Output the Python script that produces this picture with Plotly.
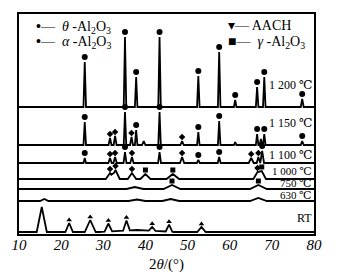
import plotly.graph_objects as go

# ---------------- data ----------------
labels = ["1 200 ℃", "1 150 ℃", "1 100 ℃", "1 000 ℃", "750 ℃", "630 ℃", "RT"]
offsets = [127, 89, 71, 55, 45, 33, 2]          # baseline level of each pattern
label_dy = [22, 22, 8, 8, 6, 6, 14]              # label height above baseline
label_size = [12, 12, 12, 11, 11, 11, 12]

# peaks: (2theta, height, half-width at base, phase)  a=alpha, t=theta, c=AACH, g=gamma
peaks_1200 = [(25.6, 45, 0.3, 'a'), (35.15, 70, 0.3, 'a'), (37.8, 30, 0.3, 'a'),
              (43.35, 70, 0.3, 'a'), (52.55, 31, 0.3, 'a'), (57.5, 55, 0.3, 'a'),
              (61.3, 7, 0.3, 'a'), (66.5, 20, 0.3, 'a'), (68.2, 30, 0.3, 'a'),
              (77.2, 8, 0.35, 'a')]
peaks_1150 = [(25.6, 23, 0.3, 'a'), (31.6, 7, 0.35, 't'), (32.8, 9, 0.35, 't'),
              (35.15, 33, 0.3, 'a'), (36.7, 8, 0.35, 't'), (37.8, 15, 0.3, 'a'),
              (39.6, 4, 0.4, ''), (43.35, 33, 0.3, 'a'), (48.7, 4, 0.4, 't'),
              (52.55, 13, 0.3, 'a'), (57.5, 24, 0.3, 'a'), (61.3, 3, 0.3, ''),
              (66.5, 11, 0.3, 'a'), (67.4, 6, 0.3, ''), (68.2, 11, 0.3, 'a'),
              (77.2, 4, 0.35, 'a')]
peaks_1100 = [(25.6, 5, 0.3, 'a'), (31.6, 5, 0.4, 't'), (32.8, 6, 0.4, 't'),
              (35.15, 11, 0.35, 'a'), (36.8, 6, 0.4, 't'), (43.35, 11, 0.35, 'a'),
              (48.7, 6, 0.5, 't'), (52.55, 3, 0.35, 'a'), (57.5, 6, 0.35, 'a'),
              (65.1, 5, 0.6, 't'), (66.8, 6, 0.4, 't'), (67.7, 12, 0.45, 'a')]
peaks_1000 = [(31.6, 6, 1.0, 't'), (32.9, 9, 1.0, 't'), (36.8, 6, 1.0, 't'),
              (40.0, 5, 1.2, 'g'), (46.5, 5, 1.5, 'g'), (66.6, 7, 1.0, 't'),
              (67.6, 8, 1.0, 'g')]
peaks_750 = [(37.5, 2, 2.0, ''), (46.3, 4, 2.0, 'g'), (66.8, 4, 2.0, 'g')]
peaks_630 = [(16.0, 2, 1.0, ''), (38.0, 1.5, 2.0, ''), (46.0, 2, 2.0, ''), (66.8, 3, 2.0, '')]
peaks_rt = [(15.4, 25, 1.2, ''), (21.9, 9, 0.9, 'c'), (26.9, 12, 1.3, 'c'),
            (31.2, 8, 0.9, 'c'), (35.5, 10, 0.8, 'c'), (41.6, 4, 0.8, 'c'),
            (45.6, 7, 0.8, 'c'), (53.3, 5, 1.0, 'c'), (38.0, 2, 9.0, '')]

patterns = [peaks_1200, peaks_1150, peaks_1100, peaks_1000, peaks_750, peaks_630, peaks_rt]

x_ticks = [10, 20, 30, 40, 50, 60, 70, 80]

# ---------------- rendering ----------------
FONT = "Liberation Serif, DejaVu Serif, serif"
marker_style = {
    'a': dict(symbol='circle', size=6),
    't': dict(symbol='diamond', size=5),
    'c': dict(symbol='triangle-up', size=5),
    'g': dict(symbol='square', size=5),
}
marker_gap = {'a': 5, 't': 4, 'c': 3, 'g': 4}


def tri(x, p, h, w):
    d = abs(x - p)
    return h * (1 - d / w) if d < w else 0.0


fig = go.Figure()
for peaks, base in zip(patterns, offsets):
    xs = {10.0, 80.0}
    for p, h, w, _ in peaks:
        xs.update([p - w, p, p + w])
    xs = sorted(x for x in xs if 10 <= x <= 80)
    ys = [base + sum(tri(x, p, h, w) for p, h, w, _ in peaks) for x in xs]
    fig.add_trace(go.Scatter(x=xs, y=ys, mode='lines',
                             line=dict(color='black', width=1.8),
                             showlegend=False, hoverinfo='skip'))
    for ph, st in marker_style.items():
        mx = [p for p, h, w, q in peaks if q == ph]
        my = [base + sum(tri(p, pp, hh, ww) for pp, hh, ww, _ in peaks) + marker_gap[ph]
              for p, h, w, q in peaks if q == ph]
        if mx:
            fig.add_trace(go.Scatter(x=mx, y=my, mode='markers',
                                     marker=dict(color='black', **st),
                                     showlegend=False, hoverinfo='skip'))

annotations = []
for lab, base, dy, sz in zip(labels, offsets, label_dy, label_size):
    annotations.append(dict(x=79.8, y=base + dy, text=lab, showarrow=False,
                            xanchor='right', yanchor='middle', borderpad=0,
                            font=dict(family=FONT, size=sz, color='black')))

legend_items = [
    (13.6, 207, "<b>•</b>—  <i>θ</i> -Al<sub>2</sub>O<sub>3</sub>"),
    (13.6, 192, "<b>•</b>—  <i>α</i> -Al<sub>2</sub>O<sub>3</sub>"),
    (59.0, 209, "▾— AACH"),
    (59.0, 192, "■—  <i>γ</i> -Al<sub>2</sub>O<sub>3</sub>"),
]
for x, y, t in legend_items:
    annotations.append(dict(x=x, y=y, text=t, showarrow=False, xanchor='left',
                            yanchor='middle',
                            font=dict(family=FONT, size=14, color='black')))

fig.update_layout(
    width=338, height=273,
    margin=dict(l=19, r=24, t=14, b=39, autoexpand=False),
    paper_bgcolor='white', plot_bgcolor='white',
    annotations=annotations,
    xaxis=dict(range=[10, 80], tickvals=x_ticks, automargin=False,
               ticktext=["<i>%d</i>" % v for v in x_ticks],
               showgrid=False, zeroline=False, showline=True, mirror=True,
               linecolor='black', linewidth=1.5, ticks='', ticklabelstandoff=-4,
               tickfont=dict(family=FONT, size=15, color='black'),
               title=dict(text="2<i>θ</i>/(°)", standoff=10,
                          font=dict(family=FONT, size=15, color='black'))),
    yaxis=dict(range=[0, 220], showticklabels=False, showgrid=False, zeroline=False,
               automargin=False,
               showline=True, mirror=True, linecolor='black', linewidth=1.5, ticks=''),
)

fig.write_html("out.html")
